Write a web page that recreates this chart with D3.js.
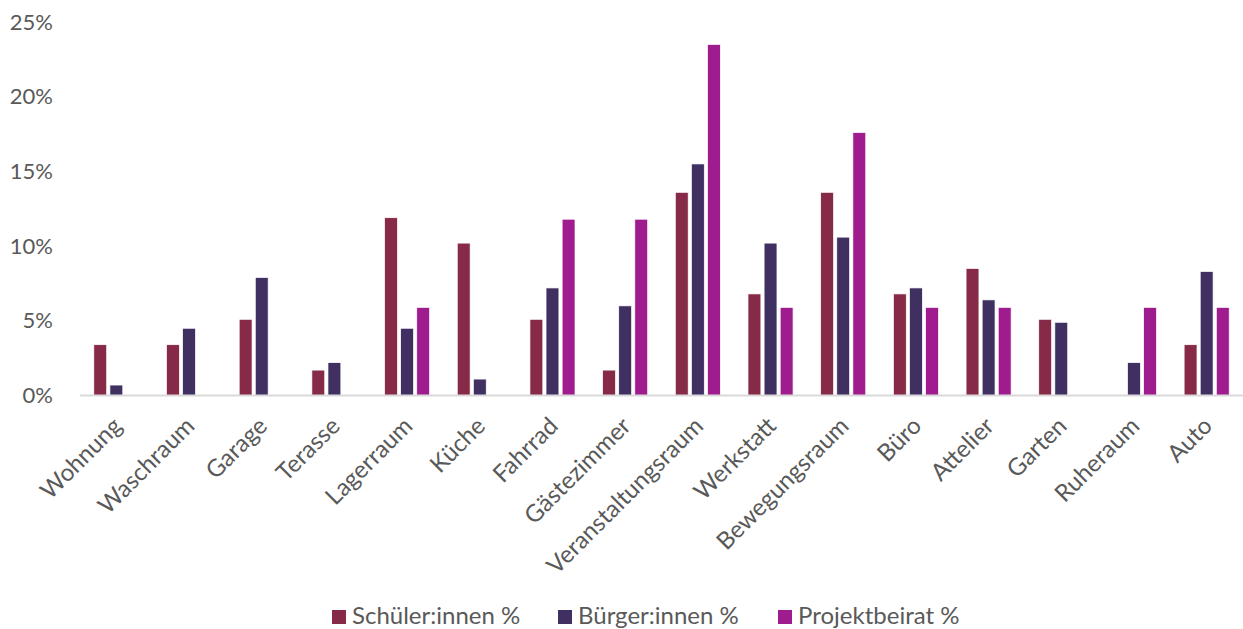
<!DOCTYPE html>
<html>
<head>
<meta charset="utf-8">
<script src="https://cdn.jsdelivr.net/npm/d3@7"></script>
<style>
  html, body { margin: 0; padding: 0; background: #ffffff; }
  svg { display: block; }
  text { font-family: "Lato", "Noto Sans", sans-serif; fill: #595959; }
</style>
</head>
<body>
<script>
const categories = ["Wohnung","Waschraum","Garage","Terasse","Lagerraum","Küche","Fahrrad","Gästezimmer","Veranstaltungsraum","Werkstatt","Bewegungsraum","Büro","Attelier","Garten","Ruheraum","Auto"];
const seriesNames = ["Schüler:innen %","Bürger:innen %","Projektbeirat %"];
const schueler =     [3.4, 3.4, 5.1, 1.7, 11.9, 10.2, 5.1, 1.7, 13.6, 6.8, 13.6, 6.8, 8.5, 5.1, 0,   3.4];
const buerger =      [0.7, 4.5, 7.9, 2.2, 4.5,  1.1,  7.2, 6.0, 15.5, 10.2, 10.6, 7.2, 6.4, 4.9, 2.2, 8.3];
const projektbeirat= [0,   0,   0,   0,   5.9,  0,    11.8, 11.8, 23.5, 5.9, 17.6, 5.9, 5.9, 0,  5.9, 5.9];
const yTicks = [0, 5, 10, 15, 20, 25];
const colors = ["#862A48", "#403062", "#9E1C8E"];

const W = 1243, H = 629;
const svg = d3.select("body").append("svg").attr("width", W).attr("height", H);

const seriesValues = [schueler, buerger, projektbeirat];
const x0 = d3.scaleBand().domain(categories).range([80, 1243]).paddingInner(0.38).paddingOuter(0.19);
const x1 = d3.scaleBand().domain(seriesNames).range([0, x0.bandwidth()]).paddingInner(0.2);
const y = d3.scaleLinear().domain([0, 25]).range([395.5, 22]);
const color = d3.scaleOrdinal().domain(seriesNames).range(colors);

// y axis labels
const yAxis = d3.axisLeft(y).tickValues(yTicks).tickFormat(d => d + "%").tickSize(0).tickPadding(0);
const gy = svg.append("g").attr("transform", "translate(53,0)").call(yAxis);
gy.select(".domain").remove();
gy.selectAll("text").style("font-size", "22px").attr("fill", "#595959").style("font-family", "Lato, 'Noto Sans', sans-serif");

// bars
const groups = svg.append("g").selectAll("g").data(categories).join("g")
  .attr("transform", d => `translate(${x0(d)},0)`);
groups.selectAll("rect")
  .data((c, i) => seriesNames.map((s, j) => ({ s, v: seriesValues[j][i] })).filter(d => d.v > 0))
  .join("rect")
  .attr("x", d => x1(d.s))
  .attr("width", x1.bandwidth())
  .attr("y", d => y(d.v))
  .attr("height", d => y(0) - y(d.v))
  .attr("fill", d => color(d.s))
  .attr("stroke", "#ffffff")
  .attr("stroke-width", 0.7);

// x axis
const xAxis = d3.axisBottom(x0).tickSize(0).tickPadding(0);
const gx = svg.append("g").attr("transform", `translate(0,${y(0)})`).call(xAxis);
gx.select(".domain").attr("stroke", "#d9d9d9").attr("stroke-width", 2)
  .attr("d", `M80,0H1243`);
gx.selectAll(".tick text")
  .style("font-size", "24px").style("font-family", "Lato, 'Noto Sans', sans-serif")
  .attr("fill", "#595959")
  .attr("text-anchor", "end")
  .attr("dy", "0.35em")
  .attr("transform", "translate(1,26) rotate(-45)");

// legend
const legendX = [332, 558, 778];
const leg = svg.append("g");
seriesNames.forEach((s, i) => {
  leg.append("rect").attr("x", legendX[i]).attr("y", 610).attr("width", 14).attr("height", 14).attr("fill", colors[i]);
  leg.append("text").attr("x", legendX[i] + 20).attr("y", 624).text(s)
    .style("font-size", "24px").attr("fill", "#595959");
});
</script>
</body>
</html>
